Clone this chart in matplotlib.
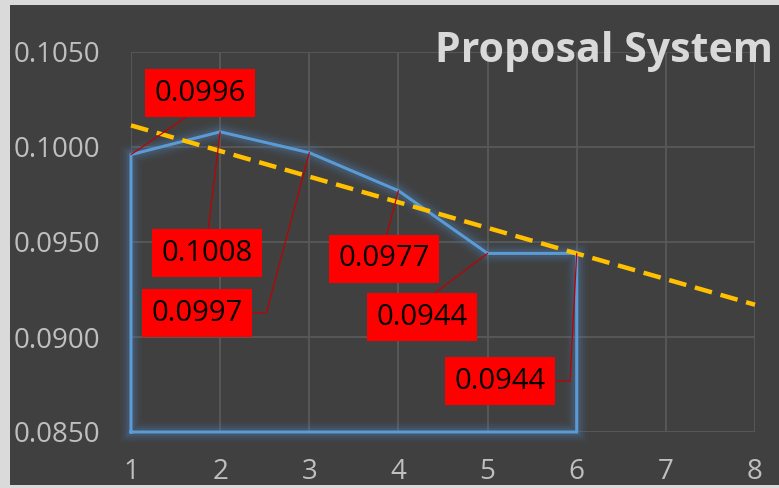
import numpy as np
import matplotlib
matplotlib.use("Agg")
import matplotlib.pyplot as plt
from matplotlib.patches import Rectangle

# -----------------------------
# Data
# -----------------------------

rounds = [1, 2, 3, 4, 5, 6]

error_rate = [0.0996, 0.1008, 0.0997, 0.0977, 0.0944, 0.0944]

value_labels = ["0.0996", "0.1008", "0.0997", "0.0977", "0.0944", "0.0944"]

y_ticks = [0.0850, 0.0900, 0.0950, 0.1000, 0.1050]

x_ticks = [1, 2, 3, 4, 5, 6, 7, 8]

# where each red label box sits (data coords) and how its leader line bends
label_pos = [
    (1.774, 0.10284),
    (1.853, 0.09442),
    (1.741, 0.09126),
    (3.839, 0.09411),
    (4.266, 0.09105),
    (5.141, 0.08768),
]

label_rel = [(0.5, 0.0), (0.5, 1.0), (1.0, 0.5), (0.5, 1.0), (0.5, 1.0), (1.0, 0.5)]

label_conn = [
    "arc3,rad=0",
    "arc3,rad=0",
    "angle,angleA=0,angleB=75,rad=0",
    "arc3,rad=0",
    "arc3,rad=0",
    "angle,angleA=0,angleB=87,rad=0",
]

plt.rcParams["font.family"] = ["Open Sans", "DejaVu Sans"]

bg = "#404040"
grid_color = "#595959"
text_color = "#BFBFBF"
blue = "#5B9BD5"

fig = plt.figure(figsize=(7.79, 4.88), dpi=100, facecolor="#DADADA")

# dark chart area with a thin light frame on the left, top and bottom
fig.patches.append(Rectangle((10 / 779, 3 / 488), 769 / 779, 480 / 488,
                             transform=fig.transFigure, facecolor=bg,
                             edgecolor="none", zorder=-5))

ax = fig.add_axes([131 / 779, 1 - 432 / 488, 624 / 779, 380 / 488])
ax.set_facecolor(bg)

ax.set_xlim(1, 8)
ax.set_ylim(0.085, 0.105)

ax.set_xticks(x_ticks)
ax.set_yticks(y_ticks)
ax.set_yticklabels(["%.4f" % v for v in y_ticks])

ax.tick_params(length=0, labelsize=20, labelcolor=text_color)
ax.tick_params(axis="x", pad=19)
ax.tick_params(axis="y", pad=22)

ax.grid(True, color=grid_color, linewidth=1.3)
ax.set_axisbelow(True)

for s in ax.spines.values():
    s.set_visible(False)

# -----------------------------
# Closed outline of the series down to the axis floor
# -----------------------------

base = ax.get_ylim()[0]

shape_x = [rounds[0]] + rounds + [rounds[-1], rounds[0]]
shape_y = [base] + error_rate + [base, base]

# soft glow around the outline
for lw, a in [(16, 0.05), (12, 0.07), (9, 0.1), (6, 0.14)]:
    ax.plot(shape_x, shape_y, color="#4F86BF", linewidth=lw, alpha=a,
            solid_joinstyle="miter", clip_on=False, zorder=2)

ax.plot(shape_x, shape_y, color=blue, linewidth=2.2,
        solid_joinstyle="miter", clip_on=False, zorder=3)

# -----------------------------
# Linear trendline, forecast out to x = 8
# -----------------------------

slope, intercept = np.polyfit(rounds, error_rate, 1)

trend_x = np.array([x_ticks[0], x_ticks[-1]])

ax.plot(trend_x, slope * trend_x + intercept, color="#FFC000",
        linewidth=3.2, dashes=(4, 2), dash_capstyle="butt",
        clip_on=False, zorder=4)

# -----------------------------
# Red value labels with leader lines
# -----------------------------

for i in range(len(rounds)):
    ax.annotate(
        value_labels[i],
        xy=(rounds[i], error_rate[i]),
        xytext=label_pos[i],
        ha="center",
        va="center",
        fontsize=21,
        color="black",
        bbox=dict(boxstyle="square,pad=0.32", facecolor="#FF0000",
                  edgecolor="none"),
        arrowprops=dict(arrowstyle="-", color="#C00000", linewidth=0.9,
                        shrinkA=0, shrinkB=0, relpos=label_rel[i],
                        connectionstyle=label_conn[i]),
        zorder=6,
    )

fig.text(773 / 779, 1 - 52 / 488, "Proposal System", ha="right",
         va="center", fontsize=29.5, fontweight="bold", color="#D9D9D9")

fig.savefig("out.png", dpi=100, facecolor=fig.get_facecolor())
